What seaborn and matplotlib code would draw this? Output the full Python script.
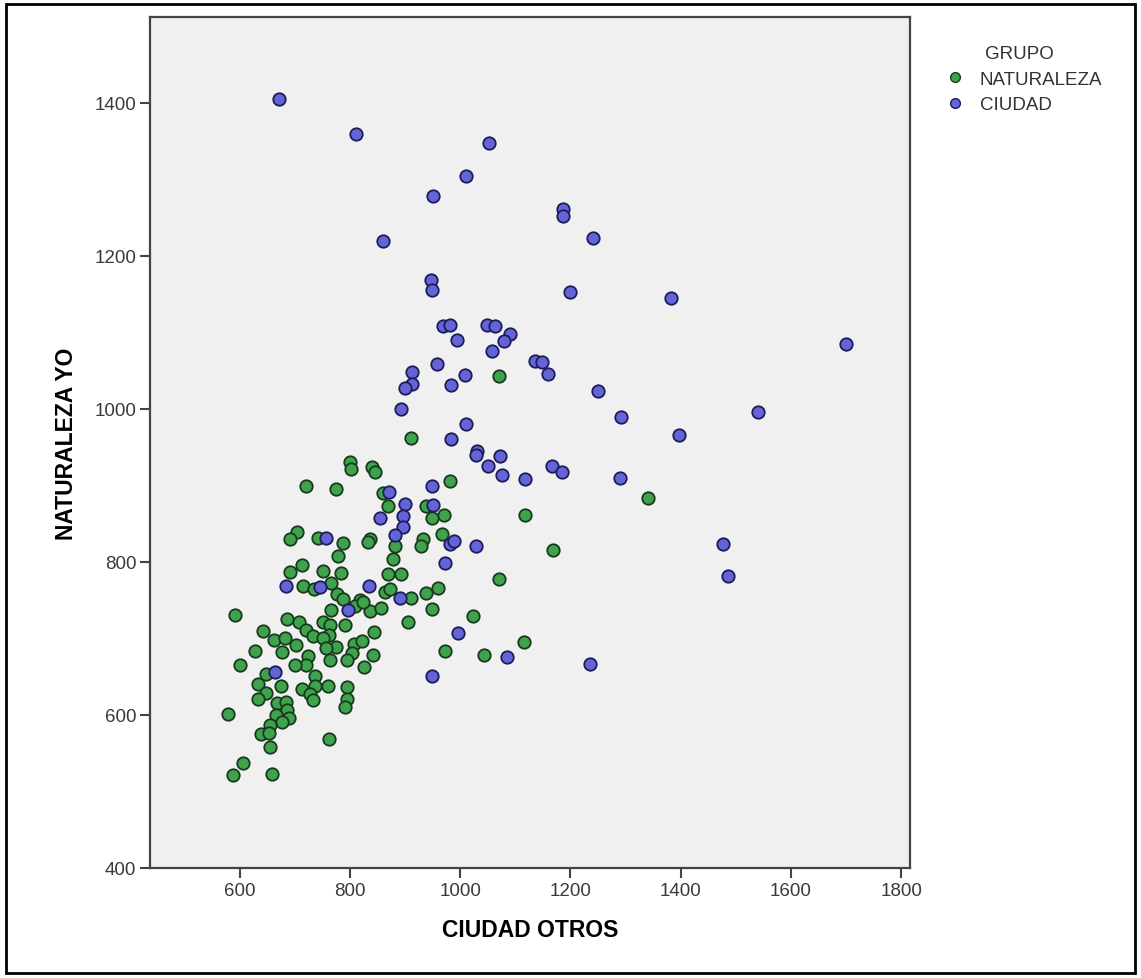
import pandas as pd
import matplotlib.pyplot as plt
import seaborn as sns
from matplotlib.patches import Rectangle

# NATURALEZA group (x = CIUDAD OTROS, y = NATURALEZA YO)
nat_x = [1071, 910, 981, 1340, 1117, 1168, 1070, 938, 948, 971, 966, 933, 928, 893, 959, 938,
         910, 948, 1023, 905, 1116, 972, 1043,
         800, 801, 839, 846, 720, 775, 859, 869, 704, 691, 742, 787, 837, 832, 778, 881, 878,
         712, 691, 750, 783, 868, 715, 735, 766, 777, 863, 872, 788, 818, 836, 856, 766, 809,
         823, 790, 591, 685, 707, 642, 662, 682, 702, 720, 732, 750, 763, 762, 750, 775, 756,
         807, 821, 844, 803, 794, 764, 627, 677, 600, 842, 825, 724, 720, 700, 648, 674, 633,
         648, 633, 736, 736, 712, 728, 732, 760, 794, 795, 791, 667, 683, 686, 665, 689, 676,
         579, 654, 639, 653, 654, 762, 605, 588, 659]
nat_y = [1043, 962, 906, 883, 861, 815, 778, 873, 857, 862, 837, 830, 821, 784, 766, 759,
         753, 739, 729, 721, 695, 683, 679,
         930, 922, 924, 917, 899, 895, 890, 873, 839, 830, 831, 825, 830, 826, 808, 821, 804,
         796, 787, 788, 786, 784, 768, 764, 772, 758, 761, 765, 752, 750, 736, 740, 737, 743,
         748, 718, 731, 725, 722, 710, 698, 701, 691, 711, 703, 722, 717, 705, 700, 689, 687,
         693, 697, 708, 681, 672, 672, 684, 682, 665, 678, 663, 677, 665, 665, 654, 638, 640,
         629, 621, 651, 638, 634, 627, 619, 638, 637, 621, 610, 615, 617, 606, 600, 596, 591,
         601, 587, 575, 576, 558, 569, 537, 522, 523]

# CIUDAD group
ciu_x = [671, 811, 860, 1052, 1011, 951, 1187, 1187, 1240, 946, 948, 1200, 1382, 969, 981,
         1049, 1063, 994, 1090, 1079, 1058, 958, 1135, 1149, 1160, 913, 912, 899, 1008, 984,
         1250, 893, 1541, 1291, 1396, 1010, 984, 1031, 1028, 1072, 1051, 1075, 1166, 1185,
         1117, 1289, 948, 1477, 1486, 1029, 972, 899, 896, 896, 950, 981, 989, 890, 996, 1084,
         1236, 948, 871, 854, 756, 881, 683, 745, 834, 797, 663, 1700]
ciu_y = [1405, 1359, 1220, 1348, 1305, 1278, 1261, 1252, 1223, 1168, 1156, 1153, 1145, 1108,
         1110, 1110, 1108, 1090, 1098, 1089, 1076, 1059, 1062, 1061, 1045, 1048, 1033, 1028,
         1044, 1031, 1024, 1000, 996, 990, 966, 980, 961, 945, 940, 939, 926, 914, 926, 917,
         908, 910, 899, 824, 782, 821, 798, 876, 860, 846, 874, 824, 827, 753, 707, 676,
         666, 651, 891, 857, 831, 835, 768, 767, 768, 737, 656, 1085]

df = pd.concat([
    pd.DataFrame({'CIUDAD OTROS': nat_x, 'NATURALEZA YO': nat_y, 'GRUPO': 'NATURALEZA'}),
    pd.DataFrame({'CIUDAD OTROS': ciu_x, 'NATURALEZA YO': ciu_y, 'GRUPO': 'CIUDAD'}),
])

plt.rcParams['font.family'] = ['Liberation Sans', 'DejaVu Sans']
fig = plt.figure(figsize=(11.41, 9.79), dpi=100)
ax = fig.add_axes([0.1315, 0.1124, 0.666, 0.869])
ax.set_facecolor('#f0f0f0')

styles = {'NATURALEZA': ('#3fa34d', '#173a1c'), 'CIUDAD': ('#6464d6', '#1c1c5c')}
handles = []
for grp, (fc, ec) in styles.items():
    sns.scatterplot(data=df[df['GRUPO'] == grp], x='CIUDAD OTROS', y='NATURALEZA YO',
                    color=fc, edgecolor=ec, linewidth=1.3, s=80, ax=ax, legend=False)
    handles.append(plt.Line2D([], [], marker='o', ls='', markerfacecolor=fc,
                              markeredgecolor=ec, markersize=7, label=grp))

ax.set_xlim(437, 1816)
ax.set_ylim(400, 1512)
ax.set_xticks([600, 800, 1000, 1200, 1400, 1600, 1800])
ax.set_yticks([400, 600, 800, 1000, 1200, 1400])
ax.tick_params(direction='out', length=7, width=1.5, color='#444444',
               labelsize=13.5, labelcolor='#3a3a3a', pad=3)
for sp in ax.spines.values():
    sp.set_color('#444444')
    sp.set_linewidth(1.6)

ax.set_xlabel('CIUDAD OTROS', fontsize=16.5, fontweight='bold', labelpad=14)
ax.set_ylabel('NATURALEZA YO', fontsize=16.5, fontweight='bold', labelpad=12)

leg = fig.legend(handles=handles, title='GRUPO', loc='upper left',
                 bbox_to_anchor=(0.806, 0.97), frameon=False, fontsize=13.5,
                 title_fontsize=13.5, handletextpad=0.3, labelspacing=0.45)
for t in leg.get_texts():
    t.set_color('#333333')
leg.get_title().set_color('#333333')

fig.patches.append(Rectangle((0.005, 0.005), 0.99, 0.99, transform=fig.transFigure,
                             fill=False, edgecolor='black', linewidth=2))

plt.savefig('out.png', dpi=100)
